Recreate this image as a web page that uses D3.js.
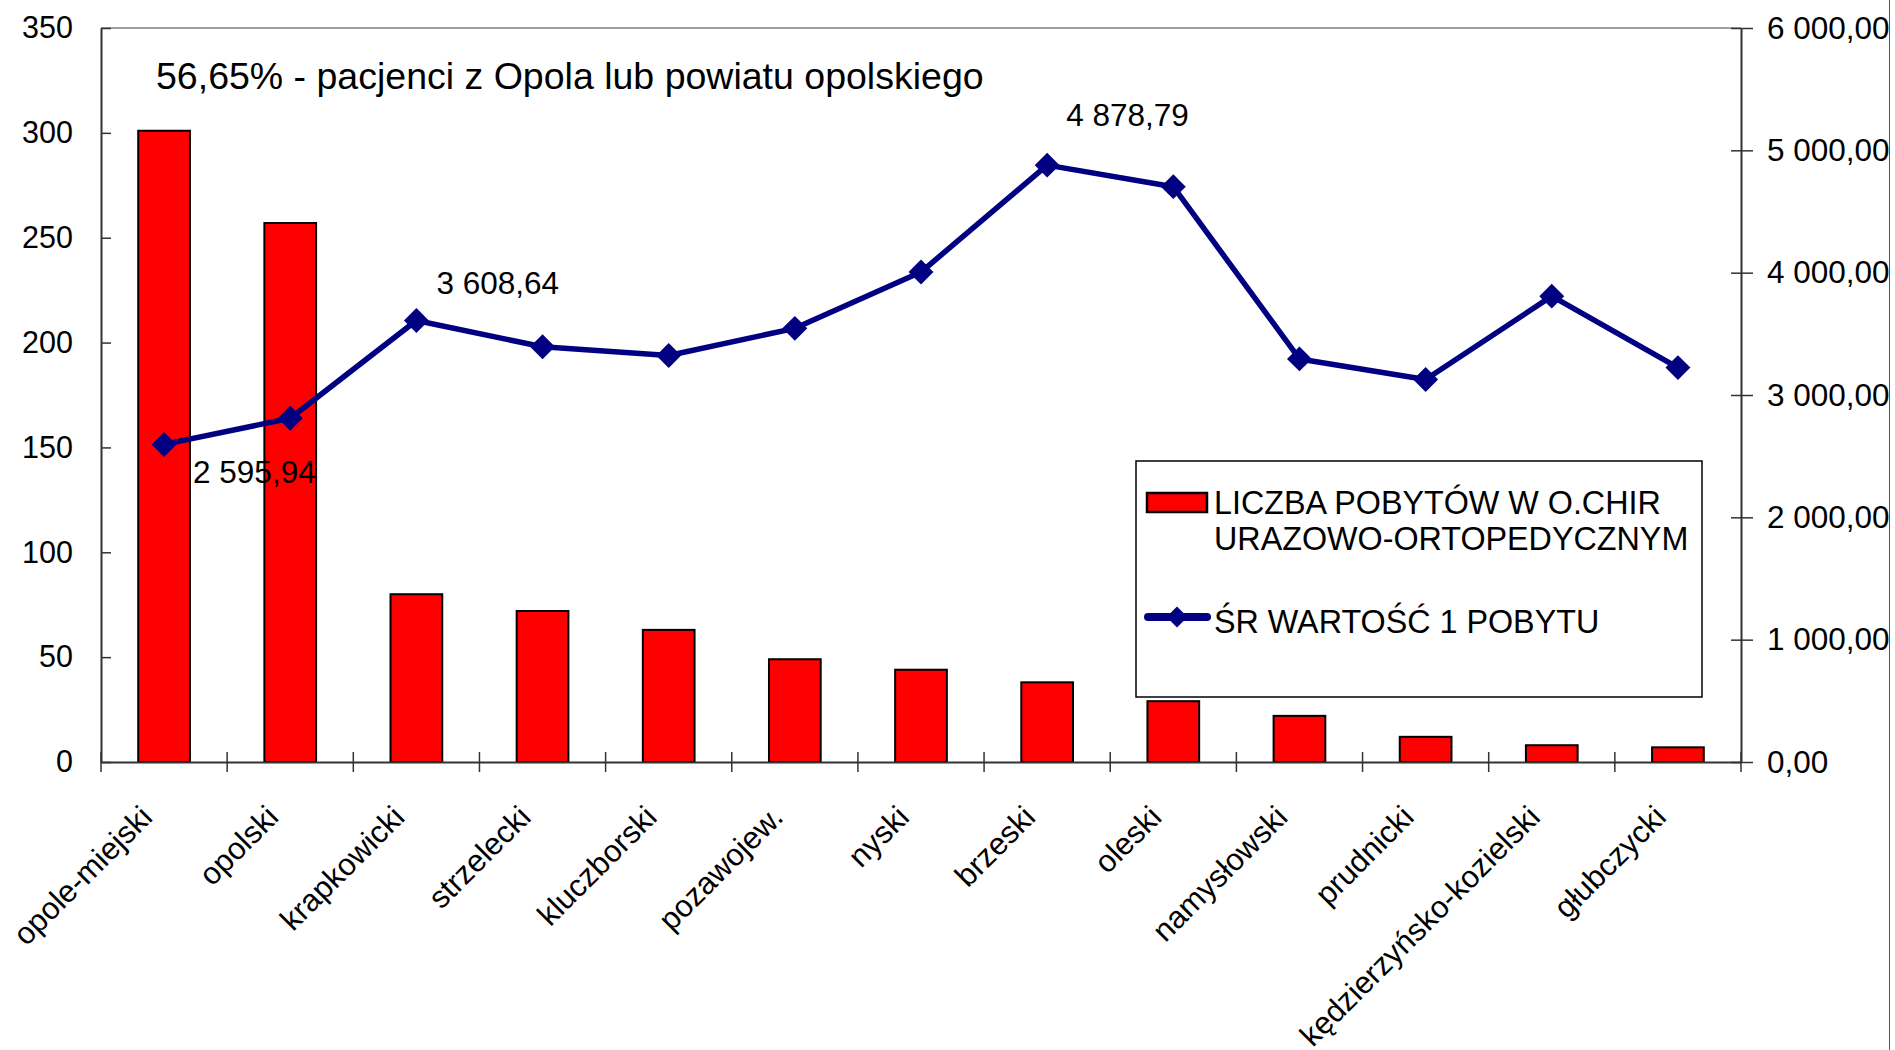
<!DOCTYPE html>
<html>
<head>
<meta charset="utf-8">
<script src="https://cdn.jsdelivr.net/npm/d3@7"></script>
<style>
  body { margin: 0; background: white; }
  svg { display: block; font-family: "Liberation Sans", Arial, sans-serif; }
</style>
</head>
<body>
<div id="chart"></div>
<script>
// powiaty, liczba pobytów i średnia wartość pobytu
const categories = ["opole-miejski", "opolski", "krapkowicki", "strzelecki", "kluczborski",
    "pozawojew.", "nyski", "brzeski", "oleski", "namysłowski", "prudnicki",
    "kędzierzyńsko-kozielski", "głubczycki"];
const stays = [301, 257, 80, 72, 63, 49, 44, 38, 29, 22, 12, 8, 7];
const avgValue = [2595.94, 2810, 3608.64, 3394, 3323, 3545, 4005, 4878.79, 4703, 3295, 3127, 3808, 3224];
const leftTicks = [0, 50, 100, 150, 200, 250, 300, 350];
const rightTicks = [0, 1000, 2000, 3000, 4000, 5000, 6000];
const labelled = [0, 2, 7];
const titleText = "56,65% - pacjenci z Opola lub powiatu opolskiego";
const legendBar = ["LICZBA POBYTÓW W O.CHIR", "URAZOWO-ORTOPEDYCZNYM"];
const legendLine = "ŚR WARTOŚĆ 1 POBYTU";

const width = 1895, height = 1050;
const plotL = 101, plotR = 1741, plotT = 28, plotB = 762;
const axisColor = "#333";
const plLocale = d3.formatLocale({decimal: ",", thousands: " ", grouping: [3]});
const fmt = plLocale.format(",.2f");

// offsets of the value labels from their markers
const labelOffsets = {0: [29, 39], 2: [20, -27], 7: [19, -39]};

const svg = d3.select("#chart").append("svg")
    .attr("width", width)
    .attr("height", height)
    .style("background", "white");

const x = d3.scaleBand().domain(categories).range([plotL, plotR]).padding(0);
const yL = d3.scaleLinear().domain([0, 350]).range([plotB, plotT]);
const yR = d3.scaleLinear().domain([0, 6000]).range([plotB, plotT]);
const barW = x.bandwidth() * 0.41;

// plot top border and outer frame edge
svg.append("line")
    .attr("x1", plotL).attr("x2", plotR)
    .attr("y1", plotT).attr("y2", plotT)
    .style("stroke", "#808080").style("stroke-width", 1.5);
svg.append("line")
    .attr("x1", 1889.5).attr("x2", 1889.5)
    .attr("y1", 0).attr("y2", height)
    .style("stroke", "#555").style("stroke-width", 1);

// bars
svg.append("g").selectAll("rect")
    .data(stays)
    .join("rect")
    .attr("x", (d, i) => x(categories[i]) + (x.bandwidth() - barW) / 2)
    .attr("y", d => yL(d))
    .attr("width", barW)
    .attr("height", d => yL(0) - yL(d))
    .style("fill", "#ff0000")
    .style("stroke", "#000")
    .style("stroke-width", 2);

// left axis
const gl = svg.append("g").attr("transform", `translate(${plotL},0)`)
    .call(d3.axisLeft(yL).tickValues(leftTicks).tickSizeInner(10).tickSizeOuter(0).tickPadding(18));
gl.selectAll(".tick line").attr("x2", 10);
// right axis
const gr = svg.append("g").attr("transform", `translate(${plotR},0)`)
    .call(d3.axisRight(yR).tickValues(rightTicks).tickFormat(fmt).tickSizeInner(10).tickSizeOuter(0).tickPadding(16));
gr.selectAll(".tick line").attr("x2", 12).attr("x1", -10);
// bottom axis
const gb = svg.append("g").attr("transform", `translate(0,${plotB})`)
    .call(d3.axisBottom(x).tickSize(0).tickFormat(""));
gb.selectAll(".tick").remove();
gb.selectAll("line.cat").data(d3.range(categories.length + 1)).join("line")
    .attr("class", "cat")
    .attr("x1", i => plotL + i * x.step()).attr("x2", i => plotL + i * x.step())
    .attr("y1", -10).attr("y2", 10)
    .style("stroke", axisColor).style("stroke-width", 1.5);

[gl, gr, gb].forEach(g => {
    g.selectAll(".domain").style("stroke", axisColor).style("stroke-width", 2);
    g.selectAll(".tick line").style("stroke", axisColor).style("stroke-width", 1.5);
    g.selectAll(".tick text").style("font-size", "30.5px").style("fill", "#000")
        .style("font-family", "Liberation Sans, Arial, sans-serif");
});
gr.selectAll(".tick text").style("font-size", "31.5px");

// category labels
svg.append("g").selectAll("text")
    .data(categories)
    .join("text")
    .attr("transform", d => `translate(${x(d) + x.bandwidth() / 2 - 10},819) rotate(-45)`)
    .attr("text-anchor", "end")
    .style("font-size", "31px")
    .text(d => d);

// line series
const line = d3.line()
    .x((d, i) => x(categories[i]) + x.bandwidth() / 2)
    .y(d => yR(d));
svg.append("path")
    .datum(avgValue)
    .attr("d", line)
    .style("fill", "none")
    .style("stroke", "#000080")
    .style("stroke-width", 5.5)
    .style("stroke-linejoin", "round");
const diamond = d3.symbol().type(d3.symbolSquare).size(310);
svg.append("g").selectAll("path")
    .data(avgValue)
    .join("path")
    .attr("transform", (d, i) => `translate(${x(categories[i]) + x.bandwidth() / 2},${yR(d)}) rotate(45)`)
    .attr("d", diamond)
    .style("fill", "#000080");

// value labels
svg.append("g").selectAll("text")
    .data(labelled)
    .join("text")
    .attr("x", i => x(categories[i]) + x.bandwidth() / 2 + labelOffsets[i][0])
    .attr("y", i => yR(avgValue[i]) + labelOffsets[i][1])
    .style("font-size", "31.5px")
    .text(i => fmt(avgValue[i]));

// title
svg.append("text")
    .attr("x", 156).attr("y", 89)
    .style("font-size", "37.5px")
    .text(titleText);

// legend
const lg = svg.append("g");
lg.append("rect")
    .attr("x", 1136).attr("y", 461)
    .attr("width", 566).attr("height", 236)
    .style("fill", "white").style("stroke", "#000").style("stroke-width", 1.5);
lg.append("rect")
    .attr("x", 1147).attr("y", 493)
    .attr("width", 60).attr("height", 19)
    .style("fill", "#ff0000").style("stroke", "#000").style("stroke-width", 2.5);
lg.selectAll("text.bar").data(legendBar).join("text")
    .attr("class", "bar")
    .attr("x", 1214).attr("y", (d, i) => 514 + i * 36)
    .style("font-size", "32.3px")
    .text(d => d);
lg.append("line")
    .attr("x1", 1148).attr("x2", 1207)
    .attr("y1", 617).attr("y2", 617)
    .style("stroke", "#000080").style("stroke-width", 8).style("stroke-linecap", "round");
lg.append("path")
    .attr("transform", "translate(1177,617) rotate(45)")
    .attr("d", d3.symbol().type(d3.symbolSquare).size(220))
    .style("fill", "#000080");
lg.append("text")
    .attr("x", 1214).attr("y", 633)
    .style("font-size", "32.3px")
    .text(legendLine);
</script>
</body>
</html>
